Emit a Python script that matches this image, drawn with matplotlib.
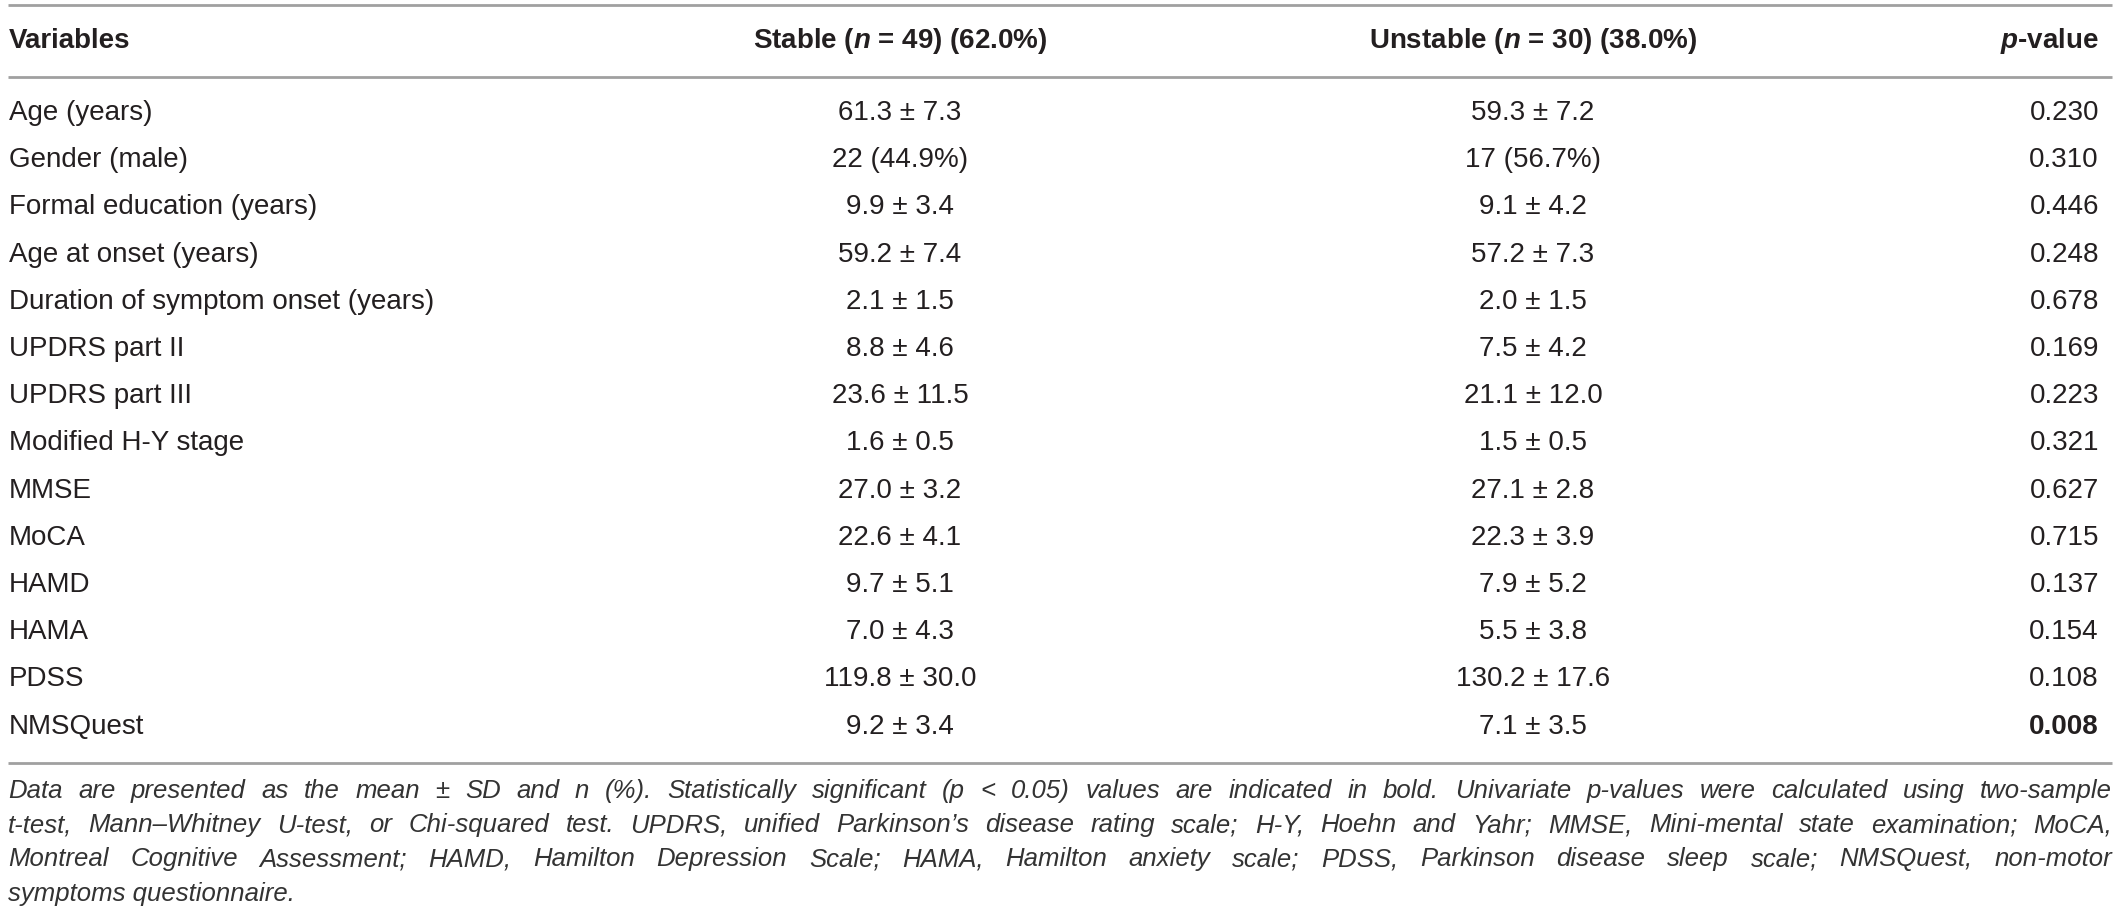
import matplotlib
matplotlib.use("Agg")
import matplotlib.pyplot as plt

plt.rcParams['font.family'] = ['Liberation Sans', 'DejaVu Sans']
plt.rcParams['mathtext.fontset'] = 'custom'
plt.rcParams['mathtext.rm'] = 'Liberation Sans'
plt.rcParams['mathtext.it'] = 'Liberation Sans:italic'
plt.rcParams['mathtext.bf'] = 'Liberation Sans:bold'
try:
    plt.rcParams['mathtext.bfit'] = 'Liberation Sans:italic:bold'
except KeyError:
    pass

# ---------------- data ----------------
headers = ["Variables", "Stable ($\\mathbfit{n}$ = 49) (62.0%)",
           "Unstable ($\\mathbfit{n}$ = 30) (38.0%)", "$\\mathbfit{p}$-value"]
variables = ["Age (years)", "Gender (male)", "Formal education (years)",
             "Age at onset (years)", "Duration of symptom onset (years)",
             "UPDRS part II", "UPDRS part III", "Modified H-Y stage", "MMSE",
             "MoCA", "HAMD", "HAMA", "PDSS", "NMSQuest"]
stable = ["61.3 ± 7.3", "22 (44.9%)", "9.9 ± 3.4", "59.2 ± 7.4", "2.1 ± 1.5",
          "8.8 ± 4.6", "23.6 ± 11.5", "1.6 ± 0.5", "27.0 ± 3.2", "22.6 ± 4.1",
          "9.7 ± 5.1", "7.0 ± 4.3", "119.8 ± 30.0", "9.2 ± 3.4"]
unstable = ["59.3 ± 7.2", "17 (56.7%)", "9.1 ± 4.2", "57.2 ± 7.3", "2.0 ± 1.5",
            "7.5 ± 4.2", "21.1 ± 12.0", "1.5 ± 0.5", "27.1 ± 2.8", "22.3 ± 3.9",
            "7.9 ± 5.2", "5.5 ± 3.8", "130.2 ± 17.6", "7.1 ± 3.5"]
pvalues = ["0.230", "0.310", "0.446", "0.248", "0.678", "0.169", "0.223",
           "0.321", "0.627", "0.715", "0.137", "0.154", "0.108", "0.008"]
significant = [False] * 13 + [True]
caption_lines = [
    "Data are presented as the mean ± SD and n (%). Statistically significant (p < 0.05) values are indicated in bold. Univariate p-values were calculated using two-sample",
    "t-test, Mann–Whitney U-test, or Chi-squared test. UPDRS, unified Parkinson’s disease rating scale; H-Y, Hoehn and Yahr; MMSE, Mini-mental state examination; MoCA,",
    "Montreal Cognitive Assessment; HAMD, Hamilton Depression Scale; HAMA, Hamilton anxiety scale; PDSS, Parkinson disease sleep scale; NMSQuest, non-motor",
    "symptoms questionnaire.",
]

# ---------------- layout ----------------
W, H = 2119, 924
fig = plt.figure(figsize=(W / 100, H / 100), dpi=100)
ax = fig.add_axes([0, 0, 1, 1])
ax.set_xlim(0, W)
ax.set_ylim(H, 0)
ax.axis('off')

x_left, x_right = 8, 2112
col_x = [9, 900, 1533, 2099]
col_ha = ['left', 'center', 'center', 'right']
txt_color = '#231f20'
line_color = '#a0a0a0'
fs = 20

y_top, y_head, y_headline = 5, 41, 77
y_first, dy = 113, 47.2
y_bottom = 763

for y in (y_top, y_headline, y_bottom):
    ax.plot([x_left, x_right], [y, y], color=line_color, lw=2.0,
            solid_capstyle='butt')

for h, x, ha in zip(headers, col_x, col_ha):
    ax.text(x, y_head, h, ha=ha, va='center', fontsize=fs,
            fontweight='bold', color=txt_color)

for i, (v, s, u, p, sig) in enumerate(zip(variables, stable, unstable,
                                          pvalues, significant)):
    y = y_first + i * dy
    ax.text(col_x[0], y, v, ha='left', va='center', fontsize=fs, color=txt_color)
    ax.text(col_x[1], y, s, ha='center', va='center', fontsize=fs, color=txt_color)
    ax.text(col_x[2], y, u, ha='center', va='center', fontsize=fs, color=txt_color)
    ax.text(col_x[3], y, p, ha='right', va='center', fontsize=fs,
            color=txt_color, fontweight='bold' if sig else 'normal')

# ---------------- justified caption ----------------
cap_fs = 18.5
cap_color = '#333333'
cap_y0, cap_dy = 791, 34.2
renderer = fig.canvas.get_renderer()
inv = ax.transData.inverted()


def text_width(t):
    bb = t.get_window_extent(renderer=renderer)
    (x0, _), (x1, _) = inv.transform([[bb.x0, 0], [bb.x1, 0]])
    return abs(x1 - x0)


for li, line in enumerate(caption_lines):
    y = cap_y0 + li * cap_dy
    words = line.split(' ')
    if li == len(caption_lines) - 1:
        ax.text(x_left, y, line, ha='left', va='center', fontsize=cap_fs,
                style='italic', color=cap_color)
        continue
    arts = [ax.text(0, y, w, ha='left', va='center', fontsize=cap_fs,
                    style='italic', color=cap_color) for w in words]
    widths = [text_width(a) for a in arts]
    gap = (x_right - x_left - sum(widths)) / (len(words) - 1)
    x = x_left
    for a, w in zip(arts, widths):
        a.set_x(x)
        x += w + gap

fig.savefig("out.png", dpi=100, facecolor='white')
